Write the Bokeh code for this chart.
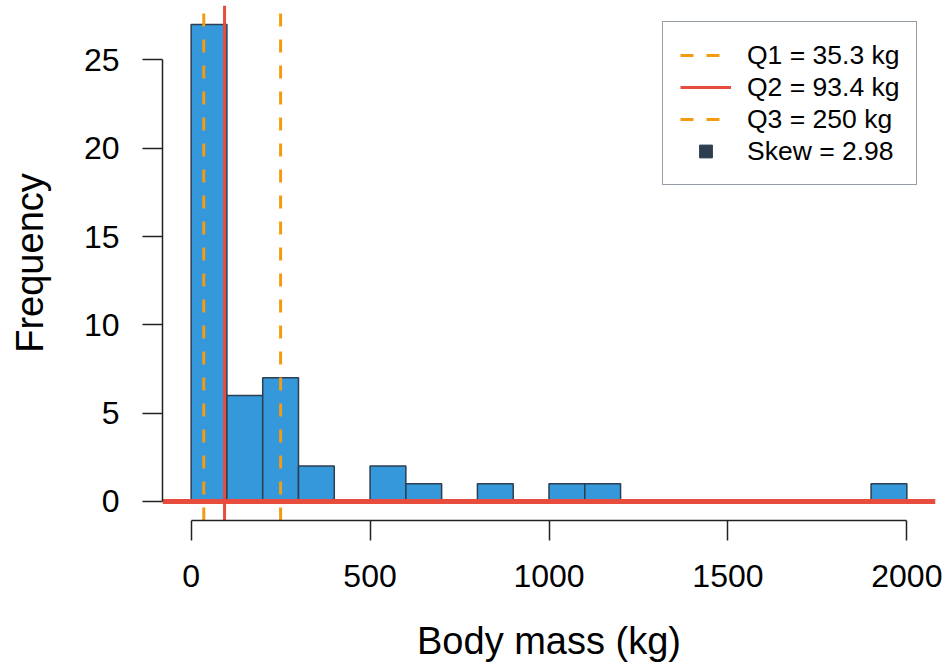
import numpy as np
from bokeh.plotting import figure
from bokeh.models import Legend, LegendItem, Range1d, FixedTicker
from bokeh.embed import file_html
from bokeh.resources import INLINE

# ---- data ----
bin_left = [0, 100, 200, 300, 400, 500, 600, 700, 800, 900,
            1000, 1100, 1200, 1300, 1400, 1500, 1600, 1700, 1800, 1900]
bin_right = [100, 200, 300, 400, 500, 600, 700, 800, 900, 1000,
             1100, 1200, 1300, 1400, 1500, 1600, 1700, 1800, 1900, 2000]
counts = [27, 6, 7, 2, 0, 2, 1, 0, 1, 0, 1, 1, 0, 0, 0, 0, 0, 0, 0, 1]
q1 = 35.3
q2 = 93.4
q3 = 250
skew = 2.98
x_ticks = [0, 500, 1000, 1500, 2000]
y_ticks = [0, 5, 10, 15, 20, 25]

BLUE = "#3498db"
EDGE = "#2c3e50"
RED = "#e74c3c"
ORANGE = "#f39c12"
FONT = "Liberation Sans"

# R-style 4% axis padding
xmin, xmax = min(bin_left), max(bin_right)
ymin, ymax = 0, max(counts)
xpad = 0.04 * (xmax - xmin)
ypad = 0.04 * (ymax - ymin)
xlo, xhi = xmin - xpad, xmax + xpad
ylo, yhi = ymin - ypad, ymax + ypad

p = figure(width=948, height=669, output_backend="svg", toolbar_location=None,
           x_range=Range1d(xlo, xhi), y_range=Range1d(ylo, yhi),
           min_border_left=162, min_border_right=13,
           min_border_top=5, min_border_bottom=149)
p.outline_line_color = None
p.grid.visible = False
p.background_fill_color = "white"
p.border_fill_color = "white"

p.quad(left=bin_left, right=bin_right, bottom=0, top=counts,
       fill_color=BLUE, line_color=EDGE, line_width=1.5)

# horizontal zero line
p.line(x=[xlo, xhi], y=[0, 0], line_color=RED, line_width=5)

r_q1 = p.line(x=[q1, q1], y=[ylo, yhi], line_color=ORANGE, line_width=3, line_dash="13 13")
r_q2 = p.line(x=[q2, q2], y=[ylo, yhi], line_color=RED, line_width=3)
r_q3 = p.line(x=[q3, q3], y=[ylo, yhi], line_color=ORANGE, line_width=3, line_dash="13 13")
r_sk = p.scatter(x=[np.nan], y=[np.nan], marker="square", size=12,
                 fill_color=EDGE, line_color=EDGE)

# axes
for ax, ticks, bnds in ((p.xaxis[0], x_ticks, (min(x_ticks), max(x_ticks))),
                        (p.yaxis[0], y_ticks, (min(y_ticks), max(y_ticks)))):
    ax.ticker = FixedTicker(ticks=ticks)
    ax.bounds = bnds
    ax.minor_tick_line_color = None
    ax.major_tick_in = 0
    ax.major_tick_out = 20
    ax.major_tick_line_color = "#222222"
    ax.major_tick_line_width = 1.5
    ax.axis_line_color = "#222222"
    ax.axis_line_width = 1.5
    ax.major_label_text_font = FONT
    ax.major_label_text_font_size = "32px"
    ax.major_label_text_color = "black"
    ax.axis_label_text_font = FONT
    ax.axis_label_text_font_size = "38px"
    ax.axis_label_text_font_style = "normal"
    ax.axis_label_text_color = "black"

p.xaxis.axis_label = "Body mass (kg)"
p.yaxis.axis_label = "Frequency"
p.xaxis.major_label_standoff = 24
p.yaxis.major_label_standoff = 23
p.yaxis.major_label_orientation = "horizontal"
p.xaxis.axis_label_standoff = 30
p.yaxis.axis_label_standoff = 30

legend = Legend(items=[
    LegendItem(label=f"Q1 = {q1} kg", renderers=[r_q1]),
    LegendItem(label=f"Q2 = {q2} kg", renderers=[r_q2]),
    LegendItem(label=f"Q3 = {q3} kg", renderers=[r_q3]),
    LegendItem(label=f"Skew = {skew}", renderers=[r_sk]),
], location=(500, 335))
legend.margin = 0
legend.padding = 17
legend.spacing = 0
legend.glyph_width = 51
legend.glyph_height = 32
legend.label_height = 32
legend.label_standoff = 16
legend.label_text_font = FONT
legend.label_text_font_size = "26.5px"
legend.label_text_color = "black"
legend.border_line_color = EDGE
legend.border_line_width = 1.5
legend.background_fill_color = "white"
legend.background_fill_alpha = 1.0
p.add_layout(legend, "center")

open("out.html", "w").write(file_html(p, INLINE))
